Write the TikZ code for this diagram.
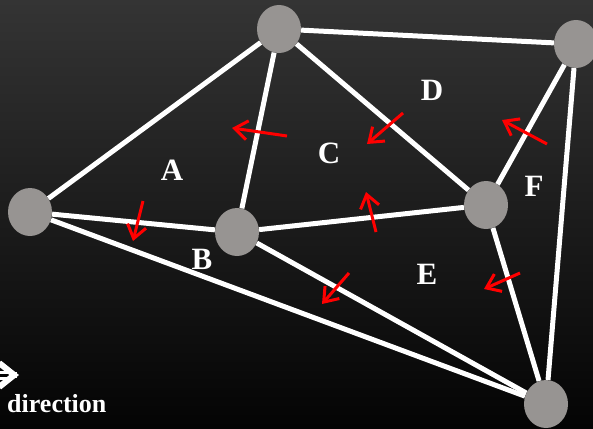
\documentclass[tikz,border=0pt]{standalone}
\usepackage{fontspec}
\setmainfont{Liberation Serif}
\usetikzlibrary{arrows.meta,shapes.geometric}
\definecolor{meshGray}{HTML}{979492}
\definecolor{meshRed}{HTML}{FF0000}
\definecolor{bgTop}{HTML}{343434}
\definecolor{bgBottom}{HTML}{040404}

\begin{document}
\begin{tikzpicture}[
  x=1pt, y=-1pt,
  vertex/.style={ellipse, fill=meshGray, minimum width=44pt, minimum height=48pt, inner sep=0pt},
  edge/.style={white, line width=5pt},
  flow/.style={meshRed, line width=3pt, -{Straight Barb[length=13pt, width=19pt]}},
  cell label/.style={font=\fontsize{31}{31}\selectfont\bfseries, text=white, inner sep=0pt},
]
% background and frame
\useasboundingbox (0,0) rectangle (593,428);
\clip (0,0) rectangle (593,428);
\fill[top color=bgTop, bottom color=bgBottom] (0,0) rectangle (593,428);

% mesh vertices
\node[vertex] (top) at (279,29) {};
\node[vertex] (topright) at (576,44) {};
\node[vertex] (left) at (30,212) {};
\node[vertex] (mid) at (237,232) {};
\node[vertex] (right) at (486,205) {};
\node[vertex] (bottom) at (546,404) {};

% mesh edges
\draw[edge] (top) -- (left);
\draw[edge] (top) -- (mid);
\draw[edge] (top) -- (right);
\draw[edge] (top) -- (topright);
\draw[edge] (topright) -- (right);
\draw[edge] (topright) -- (bottom);
\draw[edge] (left) -- (mid);
\draw[edge] (left) -- (bottom);
\draw[edge] (mid) -- (right);
\draw[edge] (mid) -- (bottom);
\draw[edge] (right) -- (bottom);

% cell labels
\node[cell label] (labA) at (172,170) {A};
\node[cell label] (labB) at (202,259) {B};
\node[cell label] (labC) at (329,153) {C};
\node[cell label] (labD) at (432,90) {D};
\node[cell label] (labE) at (427,274) {E};
\node[cell label] (labF) at (534,186) {F};

% flux arrows across the edges
\foreach \sx/\sy/\ex/\ey in {287/136/232/128, 403/113/367/144, 376/232/366/192,
    143/201/133/241, 349/273/322/304, 547/144/502/120, 520/273/484/289} {
  \draw[flow] (\sx,\sy) -- (\ex,\ey);
}

% direction legend
\coordinate (dirStart) at (-30,375);
\coordinate (dirEnd) at (19,375);
\draw[white, line width=3pt, double=bgBottom, double distance=3pt] (dirStart) -- ([xshift=-8pt]dirEnd);
\draw[white, line width=6pt, -{Straight Barb[length=15pt, width=24pt]}] ([xshift=-2pt]dirEnd) -- (dirEnd);
\node[font=\fontsize{26}{26}\selectfont\bfseries, text=white, inner sep=0pt, anchor=base west] (dirText) at (7,412) {direction};
\end{tikzpicture}
\end{document}
